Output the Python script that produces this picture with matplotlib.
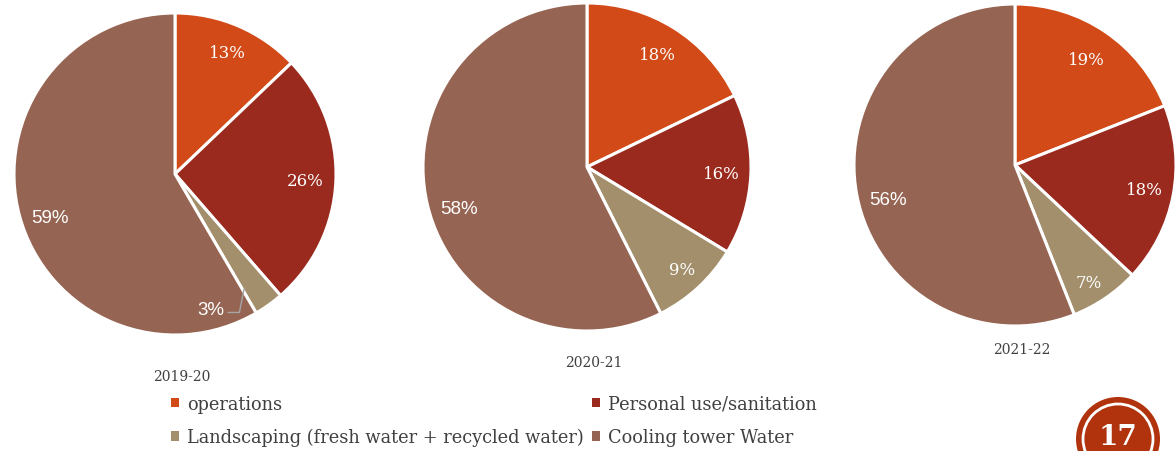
import matplotlib.pyplot as plt
import numpy as np
from matplotlib.patches import Circle, Patch
from matplotlib.transforms import IdentityTransform

plt.rcParams['font.family'] = ['DejaVu Serif']

categories = ['operations', 'Personal use/sanitation',
              'Landscaping (fresh water + recycled water)', 'Cooling tower Water']
colors = ['#D24A17', '#9A2A1E', '#A38F6B', '#966452']

years = ['2019-20', '2020-21', '2021-22']
share_1920 = [13, 26, 3, 59]
share_2021 = [18, 16, 9, 58]
share_2122 = [19, 18, 7, 56]
shares = [share_1920, share_2021, share_2122]

W, H = 1175, 452
fig = plt.figure(figsize=(W / 100, H / 100), dpi=100)

# pie centre / radius in pixels (from top-left), title y,
# label (radial distance, angle nudge in degrees) per slice
layout = [
    ((175, 175), 161, 377, [(0.82, 0), (0.81, 0), None, (0.82, 4)]),
    ((587, 168), 164, 363, [(0.81, 0), (0.82, 0), (0.85, 0), (0.82, 4.5)]),
    ((1015, 166), 161, 350, [(0.79, 0), (0.82, 0), (0.86, -2), (0.82, 4.5)]),
]
# the big "cooling" labels use a sans font in the original
label_font = ['DejaVu Serif', 'DejaVu Serif', 'DejaVu Serif', 'Liberation Sans']

for vals, year, (c, r, ty, lab) in zip(shares, years, layout):
    cx, cy = c
    ax = fig.add_axes([(cx - r) / W, (H - cy - r) / H, 2 * r / W, 2 * r / H])
    wedges, _ = ax.pie(vals, colors=colors, startangle=90, counterclock=False,
                       wedgeprops=dict(edgecolor='white', linewidth=2.2))
    ax.set_xlim(-1, 1)
    ax.set_ylim(-1, 1)
    for w, v, l, fam in zip(wedges, vals, lab, label_font):
        if l is None:
            # small slice: label sits in the neighbour with a leader line
            ax.text(0.22, -0.84, f'{v}%', ha='center', va='center',
                    color='white', fontsize=13.5, family='Liberation Sans')
            ax.plot([0.33, 0.40, 0.43], [-0.86, -0.86, -0.71], color='#A6A6A6', lw=1)
            continue
        d, nudge = l
        ang = np.deg2rad((w.theta1 + w.theta2) / 2 + nudge)
        ax.text(d * np.cos(ang), d * np.sin(ang), f'{v}%', ha='center', va='center',
                color='white', fontsize=13.5 if fam == 'Liberation Sans' else 12,
                family=fam)
    fig.text(cx / W + 0.006, 1 - ty / H, year, ha='center', va='center',
             fontsize=10, color='#404040')

# legend fills column-wise, reorder so rows read like the original
order = [0, 2, 1, 3]
handles = [Patch(facecolor=colors[i], edgecolor='none') for i in order]
fig.legend(handles, [categories[i] for i in order], ncol=2, loc='upper left',
           bbox_to_anchor=(171 / W, 1 - 396 / H), frameon=False,
           fontsize=12.8, labelcolor='#404040', handlelength=0.45, handleheight=0.45,
           handletextpad=0.45, columnspacing=0.45, labelspacing=0.85,
           borderpad=0, borderaxespad=0)

# page number badge (pixel coordinates)
bx, by = 1118, H - 440
fig.patches.append(Circle((bx, by), 42, transform=IdentityTransform(),
                          facecolor='#B0330D', edgecolor='none'))
fig.patches.append(Circle((bx, by), 35, transform=IdentityTransform(),
                          facecolor='none', edgecolor='white', linewidth=2))
fig.text(bx / W, (by + 2) / H, '17', ha='center', va='center', color='white',
         fontsize=20, fontweight='bold')

fig.savefig('out.png', dpi=100)
